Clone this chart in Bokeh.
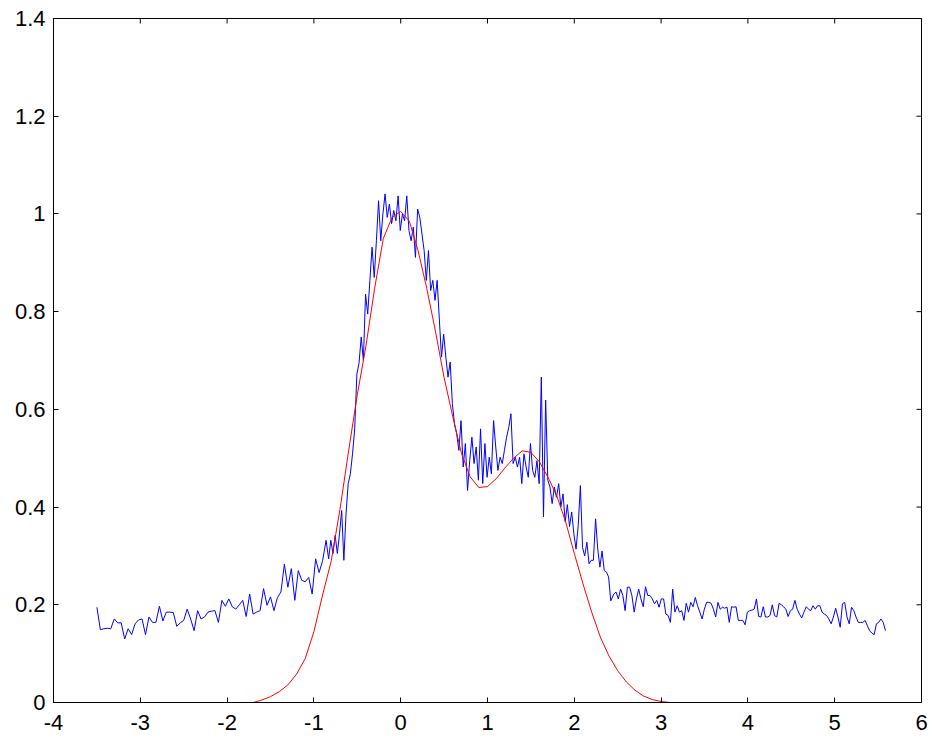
import numpy as np
from bokeh.plotting import figure
from bokeh.models import FixedTicker
from bokeh.embed import file_html
from bokeh.resources import INLINE

# axis ticks
x_ticks = [-4, -3, -2, -1, 0, 1, 2, 3, 4, 5, 6]
x_tick_labels = ["-4", "-3", "-2", "-1", "0", "1", "2", "3", "4", "5", "6"]
y_ticks = [0, 0.2, 0.4, 0.6, 0.8, 1, 1.2, 1.4]
y_tick_labels = ["0", "0.2", "0.4", "0.6", "0.8", "1", "1.2", "1.4"]

blue_left_y = [
    0.195, 0.149, 0.151, 0.152, 0.151, 0.171, 0.163, 0.163, 0.130, 0.151,
    0.139, 0.161, 0.169, 0.171, 0.139, 0.175, 0.164, 0.164, 0.197, 0.167,
    0.185, 0.185, 0.184, 0.156, 0.163, 0.168, 0.191, 0.171, 0.147, 0.188,
    0.171, 0.175, 0.185, 0.187, 0.188, 0.164, 0.209, 0.197, 0.212, 0.196,
    0.191, 0.200, 0.209, 0.176, 0.222, 0.181, 0.185, 0.188, 0.233, 0.199,
    0.216, 0.188, 0.215, 0.226, 0.283, 0.236, 0.274, 0.209, 0.270, 0.250,
    0.247, 0.256, 0.222, 0.294, 0.266, 0.290, 0.332,
]
blue_mid_y = [
    0.294, 0.332, 0.305, 0.342, 0.305, 0.345, 0.393, 0.291, 0.386, 0.448,
    0.468, 0.509, 0.560, 0.672, 0.695, 0.748, 0.700, 0.836, 0.795, 0.864,
    0.932, 0.870, 0.945, 1.027, 0.945, 1.000, 1.041, 0.993, 1.020, 0.980,
    1.007, 0.986, 1.037, 0.966, 1.000, 0.986, 1.037, 0.966, 0.945, 0.973,
    0.911, 1.010, 0.993, 0.959, 0.925, 0.864, 0.925, 0.843, 0.864, 0.823,
    0.864, 0.785, 0.707, 0.754, 0.707, 0.666, 0.697, 0.612, 0.570, 0.550,
    0.516, 0.577, 0.482, 0.530, 0.434, 0.495, 0.543, 0.489, 0.523, 0.455,
    0.560, 0.448, 0.530, 0.461, 0.502, 0.468, 0.577, 0.523, 0.475, 0.502,
    0.489, 0.516, 0.543, 0.563, 0.591, 0.489, 0.502, 0.482, 0.502, 0.448,
    0.509, 0.482, 0.461, 0.530, 0.475, 0.461, 0.495, 0.448, 0.666, 0.380,
    0.619, 0.455, 0.441, 0.407, 0.441, 0.420, 0.448, 0.400, 0.427, 0.370,
    0.405, 0.360, 0.390, 0.345, 0.314, 0.362, 0.444, 0.317, 0.300, 0.328,
    0.284, 0.291, 0.291, 0.376, 0.314, 0.277, 0.310, 0.270, 0.267, 0.257,
    0.208,
]
blue_right_y = [
    0.222, 0.226, 0.212, 0.232, 0.219, 0.188, 0.236, 0.236, 0.219, 0.185,
    0.212, 0.232, 0.212, 0.196, 0.237, 0.219, 0.219, 0.212, 0.202, 0.209,
    0.195, 0.212, 0.212, 0.181, 0.178, 0.164, 0.232, 0.185, 0.198, 0.185,
    0.188, 0.168, 0.203, 0.185, 0.205, 0.196, 0.215, 0.198, 0.185, 0.171,
    0.191, 0.205, 0.205, 0.203, 0.191, 0.175, 0.205, 0.191, 0.195, 0.193,
    0.195, 0.164, 0.196, 0.195, 0.196, 0.168, 0.168, 0.168, 0.159, 0.185,
    0.188, 0.189, 0.191, 0.212, 0.176, 0.175, 0.196, 0.175, 0.175, 0.178,
    0.200, 0.178, 0.175, 0.203, 0.200, 0.196, 0.191, 0.176, 0.188, 0.191,
    0.209, 0.191, 0.181, 0.173, 0.185, 0.196, 0.191, 0.188, 0.198, 0.191,
    0.198, 0.198, 0.185, 0.181, 0.178, 0.171, 0.161, 0.175, 0.193, 0.175,
    0.154, 0.202, 0.205, 0.175, 0.161, 0.195, 0.188, 0.175, 0.164, 0.164,
    0.164, 0.168, 0.157, 0.147, 0.142, 0.139, 0.161, 0.164, 0.171, 0.164,
    0.147,
]

# fitted curve (red)
red_x = [-4.0, -1.7, -1.6, -1.5, -1.4, -1.3, -1.2, -1.1, -1.0, -0.9, -0.8,
         -0.7, -0.6, -0.5, -0.4, -0.3, -0.2, -0.1, 0.0, 0.1, 0.2, 0.3, 0.4,
         0.5, 0.6, 0.7, 0.8, 0.9, 1.0, 1.1, 1.2, 1.3, 1.4, 1.5, 1.6, 1.7,
         1.8, 1.9, 2.0, 2.1, 2.2, 2.3, 2.4, 2.5, 2.6, 2.7, 2.8, 2.9, 3.0,
         3.1, 6.0]
red_y = [0.0, 0.0, 0.005, 0.012, 0.022, 0.036, 0.058, 0.090, 0.145, 0.220,
         0.290, 0.395, 0.515, 0.630, 0.730, 0.848, 0.950, 0.993, 1.005, 0.985,
         0.925, 0.848, 0.760, 0.665, 0.585, 0.510, 0.462, 0.440, 0.442, 0.458,
         0.480, 0.500, 0.515, 0.512, 0.492, 0.460, 0.422, 0.370, 0.305, 0.243,
         0.185, 0.134, 0.095, 0.065, 0.042, 0.025, 0.013, 0.006, 0.002, 0.0,
         0.0]

blue_x = np.concatenate([
    np.linspace(-3.50, -0.86, len(blue_left_y)),
    np.linspace(-0.83, 2.42, len(blue_mid_y)),
    np.linspace(2.455, 5.585, len(blue_right_y)),
])
blue_y = blue_left_y + blue_mid_y + blue_right_y

p = figure(width=928, height=738, x_range=(-4, 6), y_range=(0, 1.4),
           output_backend="svg", toolbar_location=None,
           min_border_left=53, min_border_right=7,
           min_border_top=18, min_border_bottom=36)

p.line(blue_x, blue_y, line_color="#0000ff", line_width=1)
p.line(red_x, red_y, line_color="#ff0000", line_width=1)

# inward ticks on the top and right edges (clipped to the frame)
p.scatter(x_ticks, [p.y_range.end] * len(x_ticks), marker="dash", size=10,
          angle=np.pi / 2, line_color="black", line_width=1)
p.scatter([p.x_range.end] * len(y_ticks), y_ticks, marker="dash", size=10,
          line_color="black", line_width=1)

p.xgrid.grid_line_color = None
p.ygrid.grid_line_color = None
p.outline_line_color = "black"
p.background_fill_color = "white"
p.border_fill_color = "white"


def style_axis(ax, ticks, labels, standoff):
    ax.ticker = FixedTicker(ticks=ticks)
    ax.major_label_overrides = dict(zip(ticks, labels))
    ax.major_tick_in = 5
    ax.major_tick_out = 0
    ax.minor_tick_line_color = None
    ax.axis_line_color = "black"
    ax.major_tick_line_color = "black"
    ax.major_label_text_font = "Liberation Sans"
    ax.major_label_text_color = "black"
    ax.major_label_standoff = standoff
    ax.major_label_text_font_size = "22px"


style_axis(p.xaxis[0], x_ticks, x_tick_labels, 12)
style_axis(p.yaxis[0], y_ticks, y_tick_labels, 8)

open("out.html", "w").write(file_html(p, INLINE))
